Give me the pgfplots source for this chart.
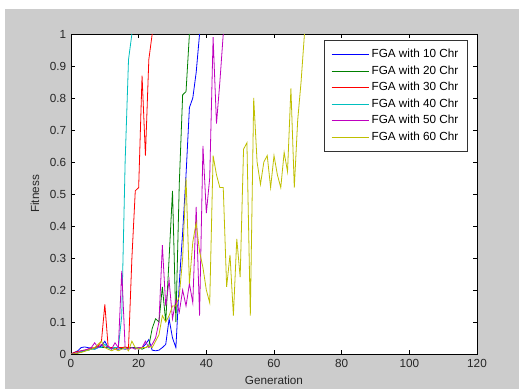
\documentclass[border=0pt]{standalone}
\usepackage{fontspec}
\setmainfont{Liberation Sans}
\usepackage{pgfplots}
\pgfplotsset{compat=1.18}
\definecolor{mgray}{RGB}{204,204,204}
\definecolor{mb}{rgb}{0,0,1}
\definecolor{mg}{rgb}{0,0.5,0}
\definecolor{mr}{rgb}{1,0,0}
\definecolor{mc}{rgb}{0,0.75,0.75}
\definecolor{mm}{rgb}{0.75,0,0.75}
\definecolor{my}{rgb}{0.75,0.75,0}
\begin{document}
\begin{tikzpicture}
\fill[white] (0,0) rectangle (389.25pt,291.75pt);
\fill[mgray] (3.75pt,0) rectangle (389.25pt,285pt);
\begin{axis}[
  at={(53.25pt,26.25pt)}, anchor=south west,
  scale only axis, width=304.5pt, height=240pt,
  xmin=0, xmax=120, ymin=0, ymax=1,
  xtick={0,20,...,120},
  ytick={0,0.1,...,1.0},
  yticklabels={0,0.1,0.2,0.3,0.4,0.5,0.6,0.7,0.8,0.9,1},
  axis background/.style={fill=white},
  axis line style={black, line width=0.6pt},
  major tick length=3pt,
  every tick/.style={black, line width=0.5pt},
  tick align=inside,
  /pgf/number format/assume math mode=true,
  tick label style={font=\fontsize{8.8}{10}\selectfont, text=black!85},
  yticklabel style={inner sep=0pt, xshift=-3.5pt},
  xticklabel style={inner sep=0pt, yshift=-4pt},
  xlabel={Generation}, ylabel={Fitness},
  label style={font=\fontsize{8.8}{10}\selectfont, text=black!85},
  xlabel style={at={(axis description cs:0.5,-0.081)}, anchor=center},
  ylabel style={at={(axis description cs:-0.0887,0.5)}, anchor=center, rotate=0},
  legend style={at={(0.978,0.981)}, anchor=north east, draw=black!80, fill=white,
    font=\fontsize{8.8}{10}\selectfont, row sep=0.55pt, inner xsep=5pt, inner ysep=4.5pt, line width=0.6pt},
  legend cell align=left,
  legend image code/.code={\draw[#1] (0pt,0pt) -- (27.75pt,0pt);},
  every axis plot/.append style={line width=0.6pt},
]
\addplot[mb] coordinates {(0,0) (1,0.005) (2,0.01) (3,0.02) (4,0.022) (5,0.02) (6,0.018) (7,0.015) (8,0.02) (9,0.025) (10,0.04) (11,0.02) (12,0.018) (13,0.015) (14,0.015) (15,0.017) (16,0.015) (17,0.018) (18,0.02) (19,0.02) (20,0.015) (21,0.02) (22,0.03) (23,0.045) (24,0.012) (25,0.01) (26,0.012) (27,0.02) (28,0.03) (29,0.11) (30,0.05) (31,0.02) (32,0.22) (33,0.38) (34,0.56) (35,0.77) (36,0.8) (37,0.88) (38,1.0)};
\addlegendentry{FGA with 10 Chr}
\addplot[mg] coordinates {(0,0) (1,0) (2,0.003) (3,0.006) (4,0.01) (5,0.012) (6,0.015) (7,0.02) (8,0.025) (9,0.02) (10,0.02) (11,0.02) (12,0.018) (13,0.02) (14,0.02) (15,0.018) (16,0.02) (17,0.02) (18,0.02) (19,0.018) (20,0.02) (21,0.015) (22,0.02) (23,0.025) (24,0.08) (25,0.11) (26,0.1) (27,0.21) (28,0.1) (29,0.3) (30,0.51) (31,0.1) (32,0.53) (33,0.81) (34,0.82) (35,1.0)};
\addlegendentry{FGA with 20 Chr}
\addplot[mr] coordinates {(0,0) (1,0.005) (2,0.008) (3,0.01) (4,0.012) (5,0.015) (6,0.02) (7,0.018) (8,0.025) (9,0.04) (10,0.155) (11,0.02) (12,0.02) (13,0.015) (14,0.02) (15,0.02) (16,0.022) (17,0.02) (18,0.3) (19,0.51) (20,0.52) (21,0.87) (22,0.62) (23,0.92) (24,1.0)};
\addlegendentry{FGA with 30 Chr}
\addplot[mc] coordinates {(0,0) (1,0) (2,0.005) (3,0.008) (4,0.01) (5,0.012) (6,0.015) (7,0.015) (8,0.02) (9,0.02) (10,0.03) (11,0.02) (12,0.015) (13,0.02) (14,0.02) (15,0.12) (16,0.6) (17,0.92) (18,1.0)};
\addlegendentry{FGA with 40 Chr}
\addplot[mm] coordinates {(0,0) (1,0) (2,0.005) (3,0.01) (4,0.012) (5,0.015) (6,0.02) (7,0.035) (8,0.02) (9,0.03) (10,0.02) (11,0.025) (12,0.015) (13,0.035) (14,0.02) (15,0.26) (16,0.02) (17,0.015) (18,0.02) (19,0.015) (20,0.02) (21,0.02) (22,0.04) (23,0.02) (24,0.03) (25,0.05) (26,0.1) (27,0.34) (28,0.15) (29,0.23) (30,0.11) (31,0.17) (32,0.13) (33,0.2) (34,0.15) (35,0.22) (36,0.16) (37,0.46) (38,0.12) (39,0.65) (40,0.44) (41,0.55) (42,0.99) (43,0.72) (44,0.85) (45,1.0)};
\addlegendentry{FGA with 50 Chr}
\addplot[my] coordinates {(0,0) (1,0) (2,0.003) (3,0.005) (4,0.008) (5,0.012) (6,0.015) (7,0.02) (8,0.03) (9,0.04) (10,0.02) (11,0.015) (12,0.01) (13,0.015) (14,0.01) (15,0.015) (16,0.02) (17,0.01) (18,0.04) (19,0.02) (20,0.015) (21,0.02) (22,0.02) (23,0.025) (24,0.02) (25,0.04) (26,0.06) (27,0.12) (28,0.1) (29,0.12) (30,0.15) (31,0.15) (32,0.18) (33,0.3) (34,0.55) (35,0.22) (36,0.35) (37,0.41) (38,0.32) (39,0.27) (40,0.2) (41,0.16) (42,0.62) (43,0.56) (44,0.52) (45,0.52) (46,0.21) (47,0.31) (48,0.12) (49,0.36) (50,0.24) (51,0.64) (52,0.66) (53,0.12) (54,0.8) (55,0.6) (56,0.53) (57,0.6) (58,0.62) (59,0.52) (60,0.62) (61,0.56) (62,0.52) (63,0.63) (64,0.57) (65,0.83) (66,0.52) (67,0.73) (68,0.85) (69,1.0)};
\addlegendentry{FGA with 60 Chr}
\end{axis}
\pgfresetboundingbox
\path (0,0) rectangle (389.25pt,291.75pt);
\end{tikzpicture}
\end{document}
